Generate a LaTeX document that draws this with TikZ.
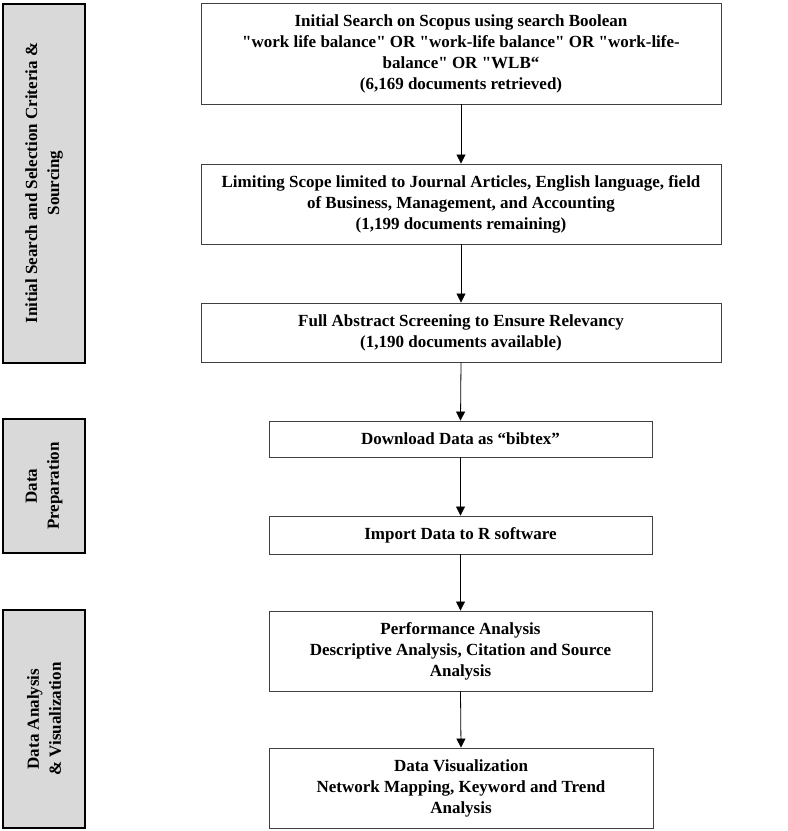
\documentclass[tikz,border=0pt]{standalone}
\usepackage{fontspec}
\setmainfont{Liberation Serif}[Ligatures=TeXOff]
\usetikzlibrary{arrows.meta}
\begin{document}
\begin{tikzpicture}[x=1pt,y=-1pt,
  stepbox/.style={draw=black!75,line width=0.9pt,fill=white,align=center,
    font=\fontsize{17}{21}\selectfont\bfseries,inner sep=0pt},
  phase/.style={draw=black,line width=2pt,fill=black!15,align=center,inner sep=0pt},
  phasetext/.style={rotate=90,align=center,font=\fontsize{17}{22}\selectfont\bfseries},
  arr/.style={draw=black,line width=0.8pt,-{Triangle[width=9pt,length=9pt]}}]
\useasboundingbox (0,0) rectangle (788,831);
% phase boxes
\node[phase,minimum width=82pt,minimum height=359pt] (p1) at (44,183) {};
\node[phasetext] (p1t) at (p1.center) {Initial Search and Selection Criteria \&\\Sourcing};
\node[phase,minimum width=82pt,minimum height=134pt] (p2) at (44,486) {};
\node[phasetext] (p2t) at (p2.center) {Data\\Preparation};
\node[phase,minimum width=82pt,minimum height=218pt] (p3) at (44,719) {};
\node[phasetext] (p3t) at (p3.center) {Data Analysis\\\& Visualization};
% step boxes
\node[stepbox,minimum width=520pt,minimum height=101pt] (b1) at (461,53.5)
  {Initial Search on Scopus using search Boolean\\"work life balance" OR "work-life balance" OR "work-life-\\balance" OR "WLB“\\(6,169 documents retrieved)};
\node[stepbox,minimum width=520pt,minimum height=80pt] (b2) at (461,204)
  {Limiting Scope limited to Journal Articles, English language, field\\of Business, Management, and Accounting\\(1,199 documents remaining)};
\node[stepbox,minimum width=520pt,minimum height=59pt] (b3) at (461,332.5)
  {Full Abstract Screening to Ensure Relevancy\\(1,190 documents available)};
\node[stepbox,minimum width=383pt,minimum height=36pt] (b4) at (460.5,439)
  {Download Data as “bibtex”};
\node[stepbox,minimum width=383pt,minimum height=38pt] (b5) at (460.5,535)
  {Import Data to R software};
\node[stepbox,minimum width=383pt,minimum height=80pt] (b6) at (460.5,651)
  {Performance Analysis\\Descriptive Analysis, Citation and Source\\Analysis};
\node[stepbox,minimum width=384pt,minimum height=80pt] (b7) at (461,788)
  {Data Visualization\\Network Mapping, Keyword and Trend\\Analysis};
% arrows
\draw[arr] (b1.south) -- (b2.north);
\draw[arr] (b2.south) -- (b3.north);
\draw[arr] (b3.south) -- (b4.north);
\draw[arr] (b4.south) -- (b5.north);
\draw[arr] (b5.south) -- (b6.north);
\draw[arr] (b6.south) -- (b7.north);
\end{tikzpicture}
\end{document}
